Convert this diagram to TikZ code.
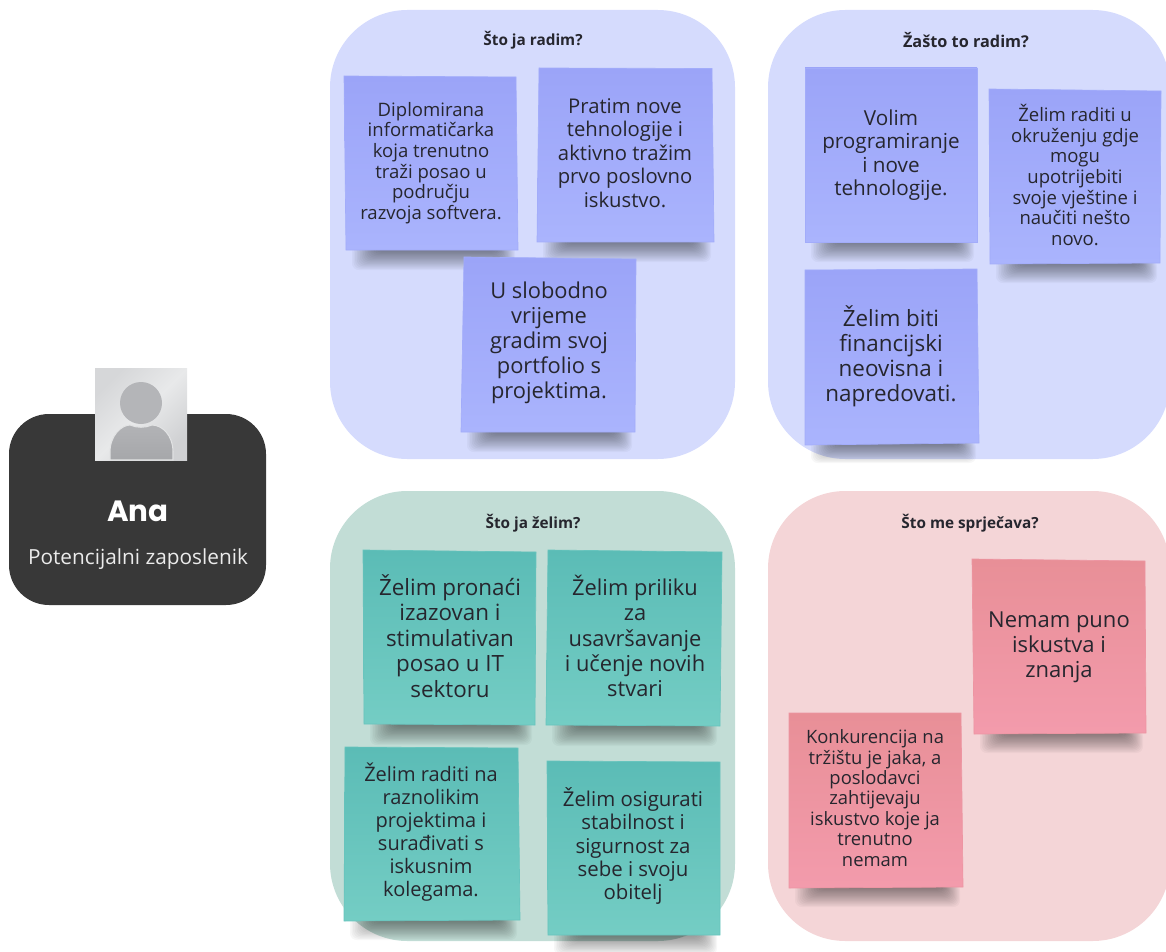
\documentclass[tikz,border=0pt]{standalone}
\usepackage{fontspec}
\setmainfont{Open Sans}
\newfontfamily\anafont{Poppins}
\usetikzlibrary{calc}
\definecolor{txt}{HTML}{26262E}
\definecolor{pblue}{RGB}{213,219,253}
\definecolor{pgreen}{RGB}{194,221,214}
\definecolor{ppink}{RGB}{244,213,215}
\definecolor{sbt}{RGB}{155,164,248}
\definecolor{sbb}{RGB}{170,180,253}
\definecolor{stt}{RGB}{91,188,182}
\definecolor{stb}{RGB}{116,205,196}
\definecolor{spt}{RGB}{232,143,151}
\definecolor{spb}{RGB}{243,155,172}
\definecolor{card}{RGB}{56,56,56}
\definecolor{avl}{RGB}{214,215,217}
\definecolor{avm}{RGB}{232,233,234}
\definecolor{avr}{RGB}{208,209,211}
\definecolor{head}{RGB}{180,181,184}
\definecolor{halo}{RGB}{226,227,228}
\definecolor{bodyt}{RGB}{178,179,182}
\definecolor{bodyb}{RGB}{166,167,170}
\tikzset{
  panel/.style={rounded corners=58pt},
  panelblue/.style={panel,fill=pblue},
  panelgreen/.style={panel,fill=pgreen},
  panelpink/.style={panel,fill=ppink},
  title/.style={font=\bfseries\fontsize{11.5}{13}\selectfont,text=txt},
  stickyblue/.style={top color=sbt,bottom color=sbb,draw=sbt!50!sbb,line width=.5pt},
  stickyteal/.style={top color=stt,bottom color=stb,draw=stt!50!stb,line width=.5pt},
  stickypink/.style={top color=spt,bottom color=spb,draw=spt!50!spb,line width=.5pt},
  stickytext/.style={align=center,text=txt,inner sep=0pt},
  sshadow/.style={fill=black,opacity=.032,rounded corners=5pt},
}
% name, TL, TR, BR, BL, fill style, size/leading, text centre, text
\newcommand\sticky[9]{%
  \coordinate (#1bl) at (#5);
  \coordinate (#1br) at (#4);
  \foreach \s in {0,...,15}{
    \fill[sshadow] ($(#1bl)+(6+1.6*\s,-4)$) rectangle ($(#1br)+(-3-1.2*\s,20-\s*1.25)$);
  }
  \path[#6] (#2) -- (#3) -- (#4) -- (#5) -- cycle;
  \node[stickytext,font=\fontsize#7\selectfont] (#1) at (#8) {#9};
}
\begin{document}
\begin{tikzpicture}[x=.75pt,y=-.75pt]
\useasboundingbox (0,0) rectangle (1166,952);
% panels
\fill[panelblue] (330,10) rectangle (735,459);
\fill[panelblue] (768,10) rectangle (1170,459);
\fill[panelgreen] (330,491) rectangle (735,941);
\fill[panelpink] (768,491) rectangle (1170,941);
\node[title] (t1) at (533,40) {Što ja radim?};
\node[title,font=\bfseries\fontsize{12.2}{14}\selectfont] (t2) at (966,40) {Žašto to radim?};
\node[title] (t3) at (533,523) {Što ja želim?};
\node[title] (t4) at (970,523) {Što me sprječava?};
% stickies
\sticky{a}{344,76}{516,77}{518,250}{346,250}{stickyblue}{{13.9}{15.5}}{431,163}{Diplomirana\\informatičarka\\koja trenutno\\traži posao u\\području\\razvoja softvera.}
\sticky{b}{539,68}{712,68.5}{714,242}{537,242}{stickyblue}{{15.2}{17.6}}{625,153}{Pratim nove\\tehnologije i\\aktivno tražim\\prvo poslovno\\iskustvo.}
\sticky{c}{464,257}{636,259}{635,432}{461,432}{stickyblue}{{16.4}{18.7}}{549,343}{U slobodno\\vrijeme\\gradim svoj\\portfolio s\\projektima.}
\sticky{d}{805,68}{977,68}{977,242}{805,242}{stickyblue}{{15.5}{17.6}}{891,155}{Volim\\programiranje\\i nove\\tehnologije.}
\sticky{e}{989,89}{1161,91}{1160,263}{990,264}{stickyblue}{{13.9}{15.5}}{1075,175}{Želim raditi u\\okruženju gdje\\mogu\\upotrijebiti\\svoje vještine i\\naučiti nešto\\novo.}
\sticky{f}{805,270}{977,269}{979,443}{805,445}{stickyblue}{{16.8}{18.8}}{891,356}{Želim biti\\financijski\\neovisna i\\napredovati.}
\sticky{g}{363,550}{536,552}{535,725}{364,724}{stickyteal}{{16.8}{19.1}}{450,636}{Želim pronaći\\izazovan i\\stimulativan\\posao u IT\\sektoru}
\sticky{h}{548,550}{722,552}{720,726}{546,725}{stickyteal}{{16.4}{19}}{635,636}{Želim priliku\\za\\usavršavanje\\i učenje novih\\stvari}
\sticky{i}{345,747}{518,748}{520,920}{344,921}{stickyteal}{{15}{17.3}}{431,832}{Želim raditi na\\raznolikim\\projektima i\\surađivati s\\iskusnim\\kolegama.}
\sticky{j}{547,761}{720,762}{720,935}{548,935}{stickyteal}{{15.3}{17.3}}{633,846}{Želim osigurati\\stabilnost i\\sigurnost za\\sebe i svoju\\obitelj}
\sticky{k}{972,559}{1145,561}{1146,733}{974,734}{stickypink}{{16.5}{18.8}}{1059,647}{Nemam puno\\iskustva i\\znanja}
\sticky{l}{789,713}{961,713}{963,887}{789,888}{stickypink}{{13.8}{15.3}}{875,798}{Konkurencija na\\tržištu je jaka, a\\poslodavci\\zahtijevaju\\iskustvo koje ja\\trenutno\\nemam}
% person card
\fill[card,rounded corners=30pt] (9,414) rectangle (266,605);
\shade[left color=avl,right color=avr,middle color=avm,shading angle=45] (95,368) rectangle (187,460);
\fill[head] (141,403) circle (21);
\draw[draw=halo,line width=.8pt,top color=bodyt,bottom color=bodyb] (110,460) -- (110,452) .. controls (110,435) and (122,425) .. (130,425) .. controls (137,428) and (145,428) .. (152,425) .. controls (162,425) and (173,435) .. (173,452) -- (173,460) -- cycle;
\node[font=\anafont\bfseries\fontsize{22}{24}\selectfont,text=white] (ana) at (138,511) {Ana};
\node[font=\fontsize{15.6}{18}\selectfont,text=white!92!black] (role) at (138,559) {Potencijalni zaposlenik};
\end{tikzpicture}
\end{document}
